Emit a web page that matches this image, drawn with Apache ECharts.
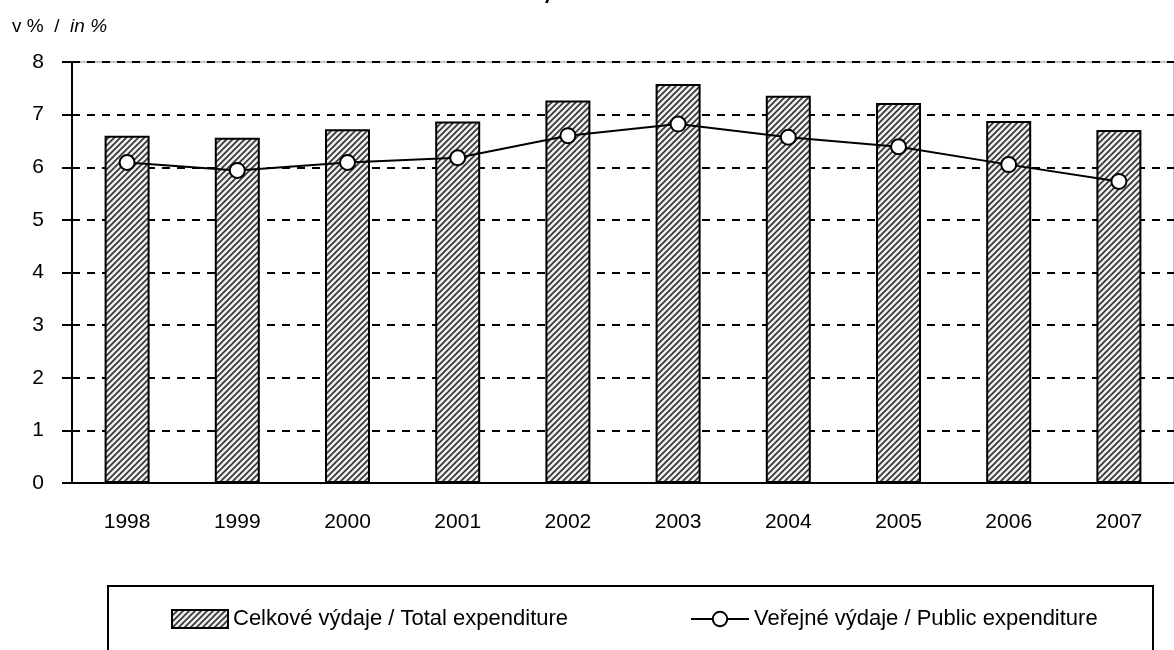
<!DOCTYPE html>
<html>
<head>
    <meta charset="utf-8">
    <title>Výdaje</title>
    <script src="https://cdn.jsdelivr.net/npm/echarts@6/dist/echarts.min.js"></script>
    <style>
        html, body { margin: 0; padding: 0; background: #fff; }
        #chart { width: 1174px; height: 650px; }
    </style>
</head>
<body>
<div id="chart"></div>
<script type="text/javascript">
    // data
    var years = ['1998', '1999', '2000', '2001', '2002', '2003', '2004', '2005', '2006', '2007'];
    var totalExp = [6.6, 6.56, 6.72, 6.87, 7.27, 7.58, 7.36, 7.22, 6.88, 6.71];
    var publicExp = [6.09, 5.94, 6.09, 6.18, 6.6, 6.82, 6.57, 6.39, 6.05, 5.73];
    var yTicks = [0, 1, 2, 3, 4, 5, 6, 7, 8];

    var nameTotal = 'Celkové výdaje / Total expenditure';
    var namePublic = 'Veřejné výdaje / Public expenditure';

    // hatch pattern for the bars
    var cv = document.createElement('canvas');
    cv.width = 6; cv.height = 6;
    var ctx = cv.getContext('2d');
    ctx.fillStyle = '#eeeeee';
    ctx.fillRect(0, 0, 6, 6);
    ctx.strokeStyle = '#333';
    ctx.lineWidth = 1.6;
    ctx.beginPath();
    ctx.moveTo(-1, 7); ctx.lineTo(7, -1);
    ctx.moveTo(-4, 4); ctx.lineTo(4, -4);
    ctx.moveTo(2, 10); ctx.lineTo(10, 2);
    ctx.stroke();

    var font = '"Liberation Sans", Arial, sans-serif';

    var myChart = echarts.init(document.getElementById('chart'));
    myChart.setOption({
        animation: false,
        grid: {
            left: 72, top: 62, width: 1110, height: 421,
            show: true, borderColor: '#888', borderWidth: 1
        },
        graphic: [
            {
                type: 'text', left: 12, top: 17,
                style: {
                    text: '{a|v %  /  }{b|in %}',
                    rich: {
                        a: { fontSize: 19, fontFamily: font, fill: '#000' },
                        b: { fontSize: 19, fontFamily: font, fontStyle: 'italic', fill: '#000' }
                    }
                }
            },
            {
                type: 'text', left: 546, top: -15,
                style: { text: '/', fontSize: 23, fontStyle: 'italic', fontWeight: 'bold', fontFamily: font, fill: '#000' }
            },
            {
                type: 'rect', shape: { x: 108, y: 586, width: 1045, height: 90 },
                style: { fill: 'none', stroke: '#000', lineWidth: 2 }
            }
        ],
        legend: [
            {
                data: [{ name: nameTotal, icon: 'rect' }], left: 171, top: 608, padding: 0,
                itemWidth: 56, itemHeight: 18, itemGap: 6,
                textStyle: { fontSize: 22, fontFamily: font, color: '#000' }
            },
            {
                data: [namePublic], left: 690, top: 608, padding: 0,
                itemWidth: 58, itemHeight: 18, itemGap: 6,
                textStyle: { fontSize: 22, fontFamily: font, color: '#000' }
            }
        ],
        xAxis: {
            type: 'category',
            data: years,
            boundaryGap: true,
            axisLine: { lineStyle: { color: '#000', width: 2 } },
            axisTick: { length: 9, lineStyle: { color: '#000', width: 2 } },
            axisLabel: { margin: 29, fontSize: 21, fontFamily: font, color: '#000' }
        },
        yAxis: {
            type: 'value',
            min: yTicks[0], max: yTicks[yTicks.length - 1], interval: 1,
            axisLine: { show: true, lineStyle: { color: '#000', width: 2 } },
            axisTick: { show: true, length: 10, lineStyle: { color: '#000', width: 2 } },
            axisLabel: { margin: 28, fontSize: 21, fontFamily: font, color: '#000' },
            splitLine: { lineStyle: { color: '#000', width: 2, type: [8, 7] } }
        },
        series: [
            {
                name: nameTotal,
                type: 'bar',
                barWidth: 45,
                data: totalExp,
                itemStyle: {
                    color: { image: cv, repeat: 'repeat' },
                    borderColor: '#000', borderWidth: 2
                }
            },
            {
                name: namePublic,
                type: 'line',
                data: publicExp,
                symbol: 'circle', symbolSize: 15,
                lineStyle: { color: '#000', width: 2 },
                itemStyle: { color: '#fff', borderColor: '#000', borderWidth: 2 },
                z: 5
            }
        ]
    });
</script>
</body>
</html>
